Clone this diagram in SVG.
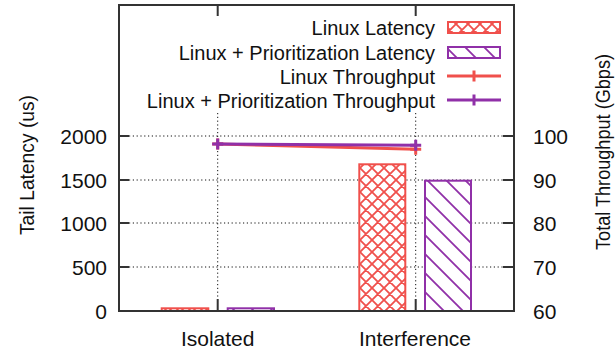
<svg xmlns="http://www.w3.org/2000/svg" width="616" height="353" viewBox="0 0 616 353">
<style>
text{font-family:"Liberation Sans",Arial,sans-serif;fill:#111}
.tk{font-size:21px}
.lg{font-size:20px;text-anchor:end}
.ttl{font-size:20px;text-anchor:middle}
.grid{stroke:#111;stroke-width:1;stroke-dasharray:1.2,2.6;fill:none}
.ax{stroke:#333;stroke-width:2;fill:none}
.red{stroke:#f0504c}
.pur{stroke:#9030a8}
.bar{stroke-width:2}
.tp{stroke-width:3;fill:none;stroke-linecap:butt}
</style>
<defs>
<pattern id="xhatch" patternUnits="userSpaceOnUse" width="12" height="12">
<rect width="12" height="12" fill="#fff"/>
<path d="M0,0L12,12M0,12L12,0M-3,3L3,-3M9,15L15,9M-3,9L3,15M9,-3L15,3" stroke="#f0504c" stroke-width="1.8"/>
</pattern>
<pattern id="dhatch" patternUnits="userSpaceOnUse" width="19" height="19">
<rect width="19" height="19" fill="#fff"/>
<path d="M0,0L19,19M-5,14L5,24M14,-5L24,5" stroke="#9030a8" stroke-width="1.8"/>
</pattern>
</defs>

<g id="grid">
<path class="grid" d="M129,136H504M129,180H504M129,223H504M129,267H504"/>
<path class="grid" d="M217.7,113V298M415.7,113V298"/>
</g>

<g id="bars">
<rect class="bar red" x="161.7" y="308.3" width="46.6" height="2.7" fill="url(#xhatch)"/>
<rect class="bar pur" x="227.7" y="308.3" width="46.3" height="2.7" fill="url(#dhatch)"/>
<rect class="bar red" x="359.3" y="164.3" width="46" height="146.7" fill="url(#xhatch)"/>
<rect class="bar pur" x="425" y="180.7" width="46" height="130.3" fill="url(#dhatch)"/>
</g>

<g id="connectors">
<path class="tp red" d="M217.7,144L415.7,149.3"/>
<path class="tp red" d="M217.7,138.5V149.5M212.2,144H223.2M415.7,143.8V154.8M410.2,149.3H421.2"/>
<path class="tp pur" d="M217.7,144L415.7,145.3"/>
<path class="tp pur" d="M217.7,138.5V149.5M212.2,144H223.2M415.7,139.8V150.8M410.2,145.3H421.2"/>
</g>

<g id="axes">
<rect class="ax" x="119" y="5" width="395" height="306"/>
<path class="ax" d="M119,136H129M119,180H129M119,223H129M119,267H129"/>
<path class="ax" d="M514,136H503M514,180H503M514,223H503M514,267H503"/>
<path class="ax" d="M217.7,311V299M415.7,311V299M217.7,5V16M415.7,5V16"/>
</g>

<g id="ytick-left">
<text class="tk" x="107" y="143.5" text-anchor="end">2000</text>
<text class="tk" x="107" y="187.5" text-anchor="end">1500</text>
<text class="tk" x="107" y="230.5" text-anchor="end">1000</text>
<text class="tk" x="107" y="274.5" text-anchor="end">500</text>
<text class="tk" x="107" y="318.5" text-anchor="end">0</text>
</g>
<g id="ytick-right">
<text class="tk" x="533" y="143.5">100</text>
<text class="tk" x="533" y="187.5">90</text>
<text class="tk" x="533" y="230.5">80</text>
<text class="tk" x="533" y="274.5">70</text>
<text class="tk" x="533" y="318.5">60</text>
</g>
<g id="xtick">
<text class="tk" x="217.7" y="346" text-anchor="middle">Isolated</text>
<text class="tk" x="415" y="346" text-anchor="middle">Interference</text>
</g>
<g id="titles">
<text class="ttl" transform="translate(34,165) rotate(-90)" textLength="140" lengthAdjust="spacingAndGlyphs">Tail Latency (us)</text>
<text class="ttl" transform="translate(610,152) rotate(-90)" textLength="196" lengthAdjust="spacingAndGlyphs">Total Throughput (Gbps)</text>
</g>

<g id="legend">
<g id="leg-linux-latency">
<text class="lg" x="435" y="35">Linux Latency</text>
<rect class="bar red" x="448" y="22" width="52" height="11" fill="url(#xhatch)"/>
</g>
<g id="leg-prio-latency">
<text class="lg" x="435" y="59.5">Linux + Prioritization Latency</text>
<rect class="bar pur" x="448" y="47" width="52" height="11" fill="url(#dhatch)"/>
</g>
<g id="leg-linux-tp">
<text class="lg" x="435" y="83.5">Linux Throughput</text>
<path class="tp red" d="M447,76H501M474,70.5V81.5"/>
</g>
<g id="leg-prio-tp">
<text class="lg" x="435" y="107.5">Linux + Prioritization Throughput</text>
<path class="tp pur" d="M447,100H501M474,94.5V105.5"/>
</g>
</g>
</svg>
